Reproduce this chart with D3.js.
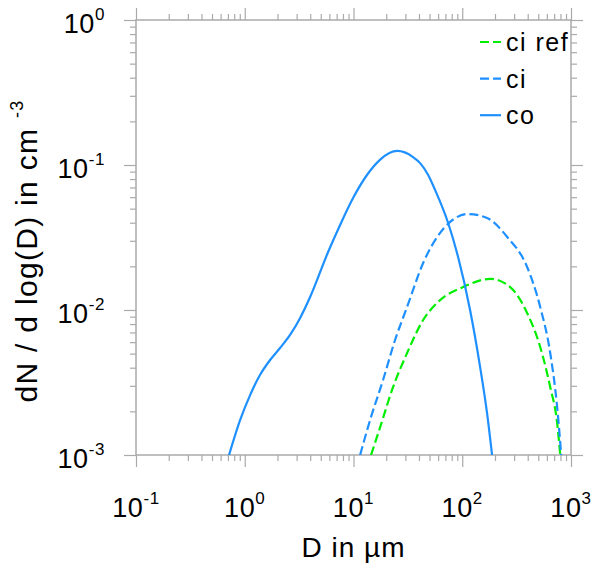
<!DOCTYPE html>
<html>
<head>
<meta charset="utf-8">
<script src="https://cdn.jsdelivr.net/npm/d3@7"></script>
<style>
  body { margin: 0; background: #fff; }
  text { font-family: "Liberation Sans", Arial, sans-serif; fill: #000; }
</style>
</head>
<body>
<svg width="592" height="567"></svg>
<script>
// size distributions (D in um, dN/dlogD in cm^-3)
const coD = [0.717, 0.906, 1.12, 1.38, 1.71, 2.11, 2.61, 3.23, 3.99, 5.84, 7.53, 9.91, 13.3, 17.6, 25.2, 35.3, 41.0, 48.6, 56.3, 74.2, 91.6, 118, 146, 169, 188];
const coN = [0.001, 0.00174, 0.00259, 0.00356, 0.00452, 0.00547, 0.00673, 0.00881, 0.0123, 0.0251, 0.0386, 0.0592, 0.0853, 0.109, 0.125, 0.1135, 0.103, 0.0853, 0.0672, 0.0398, 0.0232, 0.0100, 0.00404, 0.00195, 0.001];

const ciD = [11.5, 14.2, 18.7, 24.1, 31.1, 43.7, 62.6, 77.4, 113, 169, 259, 395, 521, 644, 746, 813];
const ciN = [0.001, 0.00174, 0.00329, 0.00621, 0.0105, 0.0211, 0.0340, 0.0405, 0.0459, 0.0431, 0.0319, 0.0198, 0.0105, 0.00505, 0.00214, 0.001];

const ciRefD = [14.5, 17.6, 23.1, 31.1, 43.7, 62.6, 102, 181, 276, 395, 521, 644, 746, 796];
const ciRefN = [0.001, 0.00156, 0.00294, 0.00505, 0.00853, 0.0117, 0.0144, 0.0164, 0.0144, 0.00953, 0.00556, 0.00294, 0.00166, 0.001];

const legendLabels = ["ci ref", "ci", "co"];
const xTickExps = [-1, 0, 1, 2, 3];
const yTickExps = [-3, -2, -1, 0];

const series = [
  {name: "ci ref", d: ciRefD, n: ciRefN, color: "#00ee00", dash: "9,4"},
  {name: "ci", d: ciD, n: ciN, color: "#1e90ff", dash: "9,4"},
  {name: "co", d: coD, n: coN, color: "#1e90ff", dash: null}
];

const W = 592, H = 567;
const m = {top: 20, right: 21, bottom: 112, left: 136};
const pw = W - m.left - m.right, ph = H - m.top - m.bottom;

const x = d3.scaleLog().domain([0.1, 1000]).range([0, pw]);
const y = d3.scaleLog().domain([0.001, 1]).range([ph, 0]);

const svg = d3.select("svg");
const g = svg.append("g").attr("transform", `translate(${m.left},${m.top})`);

// minor tick values (2..9 of each decade)
function minors(lo, hi) {
  const out = [];
  for (let e = lo; e < hi; e++)
    for (let k = 2; k <= 9; k++) out.push(k * Math.pow(10, e));
  return out;
}
const xMajor = xTickExps.map(e => Math.pow(10, e));
const yMajor = yTickExps.map(e => Math.pow(10, e));

const axisCol = "#aaa";
function drawAxis(axis, vals, len, tr) {
  const a = g.append("g").attr("transform", tr)
    .call(axis.tickValues(vals).tickSize(len).tickFormat(""));
  a.select(".domain").remove();
  a.selectAll("line").attr("stroke", axisCol).attr("stroke-width", 1.2);
}
drawAxis(d3.axisBottom(x), xMajor, 12, `translate(0,${ph})`);
drawAxis(d3.axisBottom(x), minors(-1, 3), 6, `translate(0,${ph})`);
drawAxis(d3.axisTop(x), xMajor, 12, "translate(0,0)");
drawAxis(d3.axisTop(x), minors(-1, 3), 6, "translate(0,0)");
drawAxis(d3.axisLeft(y), yMajor, 12, "translate(0,0)");
drawAxis(d3.axisLeft(y), minors(-3, 0), 6, "translate(0,0)");
drawAxis(d3.axisRight(y), yMajor, 12, `translate(${pw},0)`);
drawAxis(d3.axisRight(y), minors(-3, 0), 6, `translate(${pw},0)`);

g.append("rect").attr("width", pw).attr("height", ph)
  .attr("fill", "none").attr("stroke", axisCol).attr("stroke-width", 1.5);

// tick labels with superscript exponents
xTickExps.forEach(e => {
  const t = g.append("text").attr("x", x(Math.pow(10, e))).attr("y", ph + 62)
    .attr("text-anchor", "middle").style("font-size", "27px").style("letter-spacing", "0.6px");
  t.append("tspan").text("10");
  t.append("tspan").attr("dy", -13).style("font-size", "17px").text(e);
});
yTickExps.forEach(e => {
  const t = g.append("text").attr("x", -31).attr("y", y(Math.pow(10, e)) + 13)
    .attr("text-anchor", "end").style("font-size", "27px").style("letter-spacing", "0.6px");
  t.append("tspan").text("10");
  t.append("tspan").attr("dy", -13).style("font-size", "17px").text(e);
});

// axis titles
svg.append("text").attr("x", m.left + pw / 2).attr("y", 557)
  .attr("text-anchor", "middle").style("font-size", "28px").style("letter-spacing", "1px")
  .text("D in \u00b5m");
const yt = svg.append("text")
  .attr("transform", "translate(37,251) rotate(-90)")
  .attr("text-anchor", "middle").style("font-size", "30px").style("letter-spacing", "1.3px");
yt.append("tspan").text("dN / d log(D) in cm ");
yt.append("tspan").attr("dy", -14).style("font-size", "18px").text("-3");

// curves
const line = d3.line()
  .x((p) => x(p[0]))
  .y((p) => y(p[1]))
  .curve(d3.curveMonotoneX);

g.append("clipPath").attr("id", "clip").append("rect").attr("width", pw).attr("height", ph);
series.forEach(s => {
  g.append("path")
    .datum(s.d.map((v, i) => [v, s.n[i]]))
    .attr("clip-path", "url(#clip)")
    .attr("d", line)
    .attr("fill", "none")
    .attr("stroke", s.color)
    .attr("stroke-width", 2.2)
    .attr("stroke-dasharray", s.dash);
});

// legend
const leg = svg.append("g");
legendLabels.forEach((lab, i) => {
  const s = series.find(d => d.name === lab);
  const ly = 42 + i * 36.6;
  leg.append("line").attr("x1", 480).attr("x2", 501).attr("y1", ly).attr("y2", ly)
    .attr("stroke", s.color).attr("stroke-width", 2.2).attr("stroke-dasharray", s.dash);
  leg.append("text").attr("x", 506).attr("y", ly + 9).style("font-size", "25px")
    .style("letter-spacing", "1.5px").text(lab);
});
</script>
</body>
</html>
